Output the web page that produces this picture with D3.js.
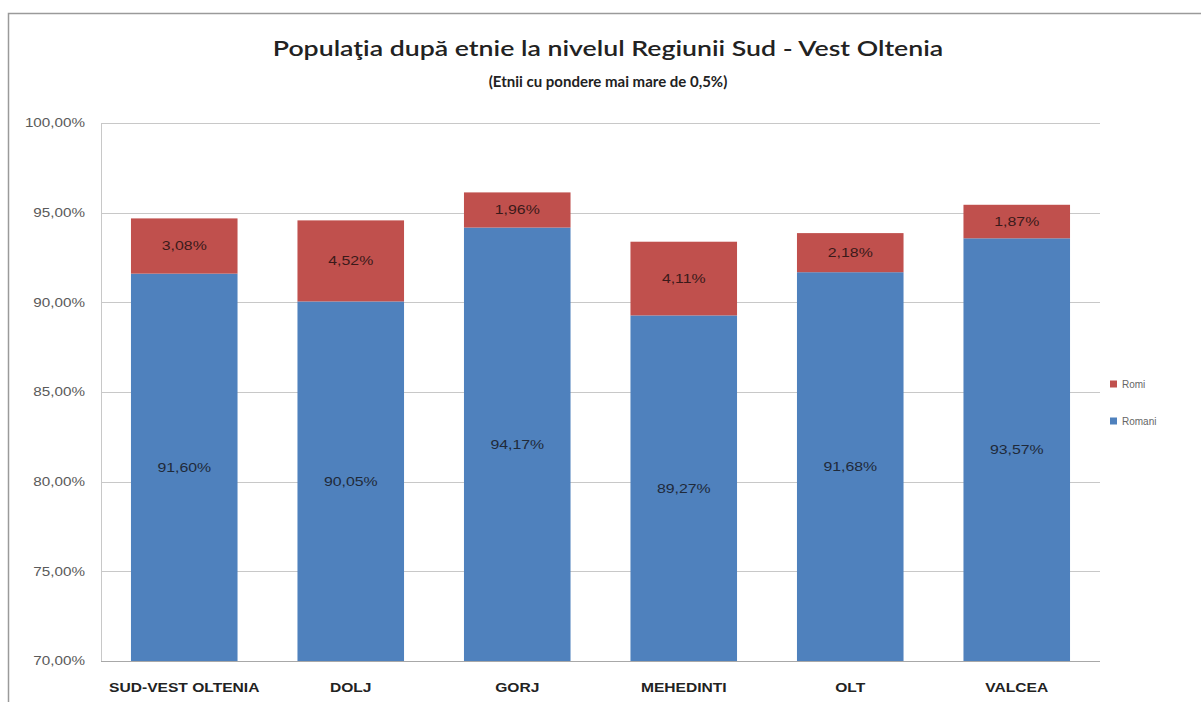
<!DOCTYPE html>
<html>
<head>
<meta charset="utf-8">
<script src="https://cdn.jsdelivr.net/npm/d3@7"></script>
<style>
  body { margin: 0; background: #fff; }
  svg { display: block; }
</style>
</head>
<body>
<div id="chart"></div>
<script>
// Data
const regions = ["SUD-VEST OLTENIA", "DOLJ", "GORJ", "MEHEDINTI", "OLT", "VALCEA"];
const romani = [91.60, 90.05, 94.17, 89.27, 91.68, 93.57];
const romi = [3.08, 4.52, 1.96, 4.11, 2.18, 1.87];
const yTicks = [70, 75, 80, 85, 90, 95, 100];

const width = 1201, height = 702;
const margin = { top: 123, right: 101, bottom: 41, left: 101 };
const sx = 1.27; // the source picture is stretched horizontally

const fmt = v => v.toFixed(2).replace(".", ",") + "%";
const arial = "'Liberation Sans', Arial, sans-serif";

const svg = d3.select("#chart").append("svg")
  .attr("width", width)
  .attr("height", height);

// place a text element at (px, py) with horizontal stretch
const at = (px, py, k = sx) => `translate(${px},${py}) scale(${k},1)`;

// outer frame (cropped at right and bottom)
svg.append("rect")
  .attr("x", 8.5).attr("y", 13.5)
  .attr("width", 1400).attr("height", 900)
  .attr("fill", "none")
  .attr("stroke", "#9a9a9a")
  .attr("stroke-width", 1.5);

const x = d3.scaleBand()
  .domain(regions)
  .range([margin.left, width - margin.right])
  .paddingInner(0.36)
  .paddingOuter(0.18);

const y = d3.scaleLinear()
  .domain([70, 100])
  .range([height - margin.bottom, margin.top]);

// gridlines
svg.append("g")
  .selectAll("line")
  .data(yTicks)
  .join("line")
  .attr("x1", margin.left).attr("x2", width - margin.right)
  .attr("y1", d => Math.round(y(d)) + 0.5).attr("y2", d => Math.round(y(d)) + 0.5)
  .attr("stroke", d => d === 70 ? "#a8a8a8" : "#c8c8c8");

// y axis line
svg.append("line")
  .attr("x1", margin.left + 0.5).attr("x2", margin.left + 0.5)
  .attr("y1", y(100)).attr("y2", y(70))
  .attr("stroke", "#c8c8c8");

// y tick labels
svg.append("g")
  .selectAll("text")
  .data(yTicks)
  .join("text")
  .attr("transform", d => at(85, y(d)))
  .attr("dy", "0.35em")
  .attr("text-anchor", "end")
  .style("font-family", arial)
  .style("font-size", "12px")
  .attr("fill", "#5a5a5a")
  .text(d => d.toFixed(2).replace(".", ",") + "%");

const rows = regions.map((r, i) => ({ region: r, romani: romani[i], romi: romi[i] }));

// Romani bars
svg.append("g")
  .selectAll("rect")
  .data(rows)
  .join("rect")
  .attr("x", d => x(d.region))
  .attr("width", x.bandwidth())
  .attr("y", d => y(d.romani))
  .attr("height", d => y(70) - y(d.romani))
  .attr("fill", "#4f81bd");

// Romi bars
svg.append("g")
  .selectAll("rect")
  .data(rows)
  .join("rect")
  .attr("x", d => x(d.region))
  .attr("width", x.bandwidth())
  .attr("y", d => y(d.romani + d.romi))
  .attr("height", d => y(d.romani) - y(d.romani + d.romi))
  .attr("fill", "#c0504d");

// value labels
svg.append("g")
  .selectAll("text")
  .data(rows)
  .join("text")
  .attr("transform", d => at(x(d.region) + x.bandwidth() / 2, (y(70) + y(d.romani)) / 2))
  .attr("dy", "0.35em")
  .attr("text-anchor", "middle")
  .style("font-family", arial)
  .style("font-size", "12.5px")
  .attr("fill", "#1f2a3a")
  .text(d => fmt(d.romani));

svg.append("g")
  .selectAll("text")
  .data(rows)
  .join("text")
  .attr("transform", d => at(x(d.region) + x.bandwidth() / 2, (y(d.romani) + y(d.romani + d.romi)) / 2))
  .attr("dy", "0.35em")
  .attr("text-anchor", "middle")
  .style("font-family", arial)
  .style("font-size", "12.5px")
  .attr("fill", "#3a1a1a")
  .text(d => fmt(d.romi));

// category labels
svg.append("g")
  .selectAll("text")
  .data(regions)
  .join("text")
  .attr("transform", d => at(x(d) + x.bandwidth() / 2, 687, 1.2))
  .attr("dy", "0.35em")
  .attr("text-anchor", "middle")
  .style("font-family", arial)
  .style("font-size", "13px")
  .style("font-weight", "bold")
  .attr("fill", "#222")
  .text(d => d);

// title
svg.append("text")
  .attr("transform", at(608, 56))
  .attr("text-anchor", "middle")
  .style("font-family", "Lato, 'Open Sans', sans-serif")
  .style("font-size", "21px")
  .style("font-weight", "600")
  .attr("fill", "#222")
  .text("Populaţia după etnie la nivelul Regiunii Sud - Vest Oltenia");

svg.append("text")
  .attr("transform", at(608, 87, 1))
  .attr("text-anchor", "middle")
  .style("font-family", "Lato, 'Open Sans', sans-serif")
  .style("font-size", "15px")
  .style("font-weight", "bold")
  .attr("fill", "#222")
  .text("(Etnii cu pondere mai mare de 0,5%)");

// legend
const legendItems = [["Romi", "#c0504d"], ["Romani", "#4f81bd"]];
const legend = svg.append("g")
  .selectAll("g")
  .data(legendItems)
  .join("g")
  .attr("transform", (d, i) => `translate(1110, ${384 + i * 37})`);

legend.append("rect")
  .attr("x", 0).attr("y", -3.5)
  .attr("width", 7).attr("height", 7)
  .attr("fill", d => d[1]);

legend.append("text")
  .attr("x", 12).attr("y", 0)
  .attr("dy", "0.35em")
  .style("font-family", arial)
  .style("font-size", "10px")
  .attr("fill", "#666")
  .text(d => d[0]);
</script>
</body>
</html>
